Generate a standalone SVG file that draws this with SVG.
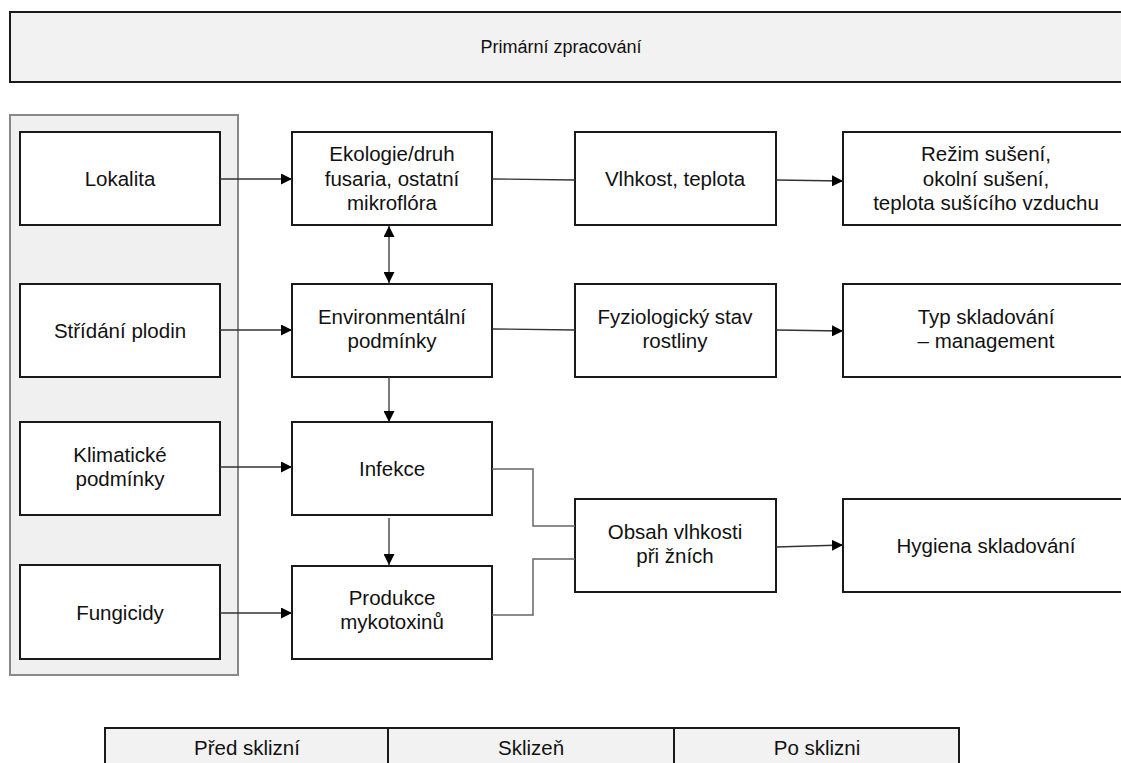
<svg xmlns="http://www.w3.org/2000/svg" width="1121" height="763" viewBox="0 0 1121 763">
<style>
.box{fill:#ffffff;stroke:#1a1a1a;stroke-width:2}
.band{fill:#f2f2f2;stroke:#1a1a1a;stroke-width:2}
.grp{fill:#f0f0f0;stroke:#888888;stroke-width:2}
text{font-family:"Liberation Sans",Arial,sans-serif;font-size:20.5px;fill:#111111;text-anchor:middle}
text.t{font-size:18px}
.c{fill:none;stroke:#333333;stroke-width:1.3}
.e{fill:none;stroke:#666666;stroke-width:1.5}
</style>
<defs>
<marker id="ah" markerWidth="11" markerHeight="11" refX="11" refY="5.5" orient="auto" markerUnits="userSpaceOnUse">
<path d="M0,0 L11,5.5 L0,11 Z" fill="#000000"/>
</marker>
<marker id="as" markerWidth="11" markerHeight="11" refX="0" refY="5.5" orient="auto" markerUnits="userSpaceOnUse">
<path d="M11,0 L0,5.5 L11,11 Z" fill="#000000"/>
</marker>
</defs>

<g id="primarni"><rect class="band" x="10" y="12" width="1125" height="70"/><text class="t" x="561" y="53">Primární zpracování</text></g>

<g id="skupina"><rect class="grp" x="10" y="115" width="228" height="560"/></g>

<g id="lokalita"><rect class="box" x="20" y="132" width="200" height="93"/><text x="120" y="186">Lokalita</text></g>
<g id="stridani"><rect class="box" x="20" y="284" width="200" height="93"/><text x="120" y="338">Střídání plodin</text></g>
<g id="klimaticke"><rect class="box" x="20" y="422" width="200" height="93"/><text x="120" y="462">Klimatické</text><text x="120" y="486">podmínky</text></g>
<g id="fungicidy"><rect class="box" x="20" y="565" width="200" height="94"/><text x="120" y="620">Fungicidy</text></g>

<g id="ekologie"><rect class="box" x="292" y="132" width="200" height="93"/><text x="392" y="161">Ekologie/druh</text><text x="392" y="185.5">fusaria, ostatní</text><text x="392" y="210">mikroflóra</text></g>
<g id="environmentalni"><rect class="box" x="292" y="284" width="200" height="93"/><text x="392" y="324">Environmentální</text><text x="392" y="348">podmínky</text></g>
<g id="infekce"><rect class="box" x="292" y="422" width="200" height="93"/><text x="392" y="476">Infekce</text></g>
<g id="produkce"><rect class="box" x="292" y="566" width="200" height="93"/><text x="392" y="605">Produkce</text><text x="392" y="629">mykotoxinů</text></g>

<g id="vlhkost"><rect class="box" x="575" y="132" width="201" height="93"/><text x="675" y="186">Vlhkost, teplota</text></g>
<g id="fyziologicky"><rect class="box" x="575" y="284" width="201" height="93"/><text x="675" y="324">Fyziologický stav</text><text x="675" y="348">rostliny</text></g>
<g id="obsah"><rect class="box" x="575" y="499" width="201" height="93"/><text x="675" y="539">Obsah vlhkosti</text><text x="675" y="563">při žních</text></g>

<g id="rezim"><rect class="box" x="843" y="132" width="300" height="93"/><text x="986" y="161">Režim sušení,</text><text x="986" y="185.5">okolní sušení,</text><text x="986" y="210">teplota sušícího vzduchu</text></g>
<g id="typ"><rect class="box" x="843" y="284" width="300" height="93"/><text x="986" y="324">Typ skladování</text><text x="986" y="348">– management</text></g>
<g id="hygiena"><rect class="box" x="843" y="499" width="300" height="93"/><text x="986" y="553">Hygiena skladování</text></g>

<g id="faze">
<rect class="band" x="105" y="728" width="283" height="45"/><text x="247" y="755">Před sklizní</text>
<rect class="band" x="388" y="728" width="286" height="45"/><text x="531" y="755">Sklizeň</text>
<rect class="band" x="674" y="728" width="285" height="45"/><text x="817" y="755">Po sklizni</text>
</g>

<g id="connectors">
<line class="c" x1="220" y1="179" x2="292" y2="179" marker-end="url(#ah)"/>
<line class="c" x1="220" y1="330" x2="292" y2="330" marker-end="url(#ah)"/>
<line class="c" x1="220" y1="467" x2="292" y2="467" marker-end="url(#ah)"/>
<line class="c" x1="220" y1="613" x2="292" y2="613" marker-end="url(#ah)"/>
<line class="c" x1="389" y1="226" x2="389" y2="283" marker-start="url(#as)" marker-end="url(#ah)"/>
<line class="c" x1="389" y1="377" x2="389" y2="422" marker-end="url(#ah)"/>
<line class="c" x1="389" y1="518" x2="389" y2="565" marker-end="url(#ah)"/>
<line class="c" x1="492" y1="179" x2="575" y2="180"/>
<line class="c" x1="776" y1="180" x2="843" y2="181" marker-end="url(#ah)"/>
<line class="c" x1="492" y1="329" x2="575" y2="330"/>
<line class="c" x1="776" y1="330" x2="843" y2="331" marker-end="url(#ah)"/>
<polyline class="e" points="492,469 533,469 533,526 575,526"/>
<polyline class="e" points="492,615 533,615 533,559 575,559"/>
<line class="c" x1="776" y1="547" x2="843" y2="545" marker-end="url(#ah)"/>
</g>
</svg>
